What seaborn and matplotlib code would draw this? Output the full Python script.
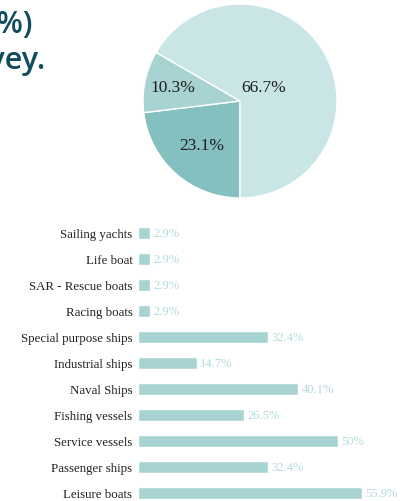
import numpy as np
import matplotlib
matplotlib.use("Agg")
import matplotlib.pyplot as plt
import seaborn as sns

# pie data (clockwise from the bottom)
pie_values = [23.1, 10.3, 66.7]
pie_labels = ["23.1%", "10.3%", "66.7%"]
pie_colors = ["#84c0bf", "#a7d3d2", "#cae5e5"]

# bar data
categories = ["Sailing yachts", "Life boat", "SAR - Rescue boats", "Racing boats",
              "Special purpose ships", "Industrial ships", "Naval Ships",
              "Fishing vessels", "Service vessels", "Passenger ships", "Leisure boats"]
shares = [2.9, 2.9, 2.9, 2.9, 32.4, 14.7, 40.1, 26.5, 50, 32.4, 55.9]
share_labels = ["2.9%", "2.9%", "2.9%", "2.9%", "32.4%", "14.7%", "40.1%",
                "26.5%", "50%", "32.4%", "55.9%"]

sns.set_style("white")
plt.rcParams["font.family"] = ["Liberation Serif", "DejaVu Serif"]

W, H = 406, 502
fig = plt.figure(figsize=(W / 100, H / 100), dpi=100)

# cut-off title fragments on the left
title_color = "#0f4c5c"
fig.text(33 / W, 1 - 33 / H, "(%)", ha="right", va="baseline", fontsize=22,
         color=title_color, family=["Open Sans", "DejaVu Sans"], weight="semibold")
fig.text(46 / W, 1 - 69 / H, "survey.", ha="right", va="baseline", fontsize=22,
         color=title_color, family=["Open Sans", "DejaVu Sans"], weight="semibold")

# pie chart
cx, cy, r = 240, 102, 97
ax_pie = fig.add_axes([(cx - r) / W, 1 - (cy + r) / H, 2 * r / W, 2 * r / H])
wedges, _ = ax_pie.pie(pie_values, colors=pie_colors, startangle=270,
                       counterclock=False,
                       wedgeprops=dict(edgecolor="white", linewidth=1))
ax_pie.set_xlim(-1, 1)
ax_pie.set_ylim(-1, 1)
ax_pie.set_aspect("equal")
label_dist = [0.60, 0.71, 0.28]
for w, lab, d in zip(wedges, pie_labels, label_dist):
    ang = np.deg2rad((w.theta1 + w.theta2) / 2)
    ax_pie.text(d * np.cos(ang), d * np.sin(ang), lab, ha="center", va="center",
                fontsize=12.5, color="#1e1e1e")

# bar chart
row = 26
top = 234 - row / 2
n = len(categories)
ax_bar = fig.add_axes([138 / W, 1 - (top + n * row) / H, 260 / W, n * row / H])
sns.barplot(x=shares, y=categories, orient="h", color="#a7d4d2", saturation=1,
            width=0.46, ax=ax_bar)
ax_bar.set_xlim(0, 65)
ax_bar.set_ylim(n - 0.5, -0.5)
for i, (v, lab) in enumerate(zip(shares, share_labels)):
    ax_bar.text(v + 0.9, i, lab, ha="left", va="center", fontsize=9,
                color="#b3dbdb")
ax_bar.set_xticks([])
ax_bar.tick_params(axis="y", length=0, pad=4, labelsize=9.3, labelcolor="#222222")
ax_bar.set_xlabel("")
ax_bar.set_ylabel("")
sns.despine(ax=ax_bar, left=True, bottom=True)

fig.savefig("out.png", dpi=100)
